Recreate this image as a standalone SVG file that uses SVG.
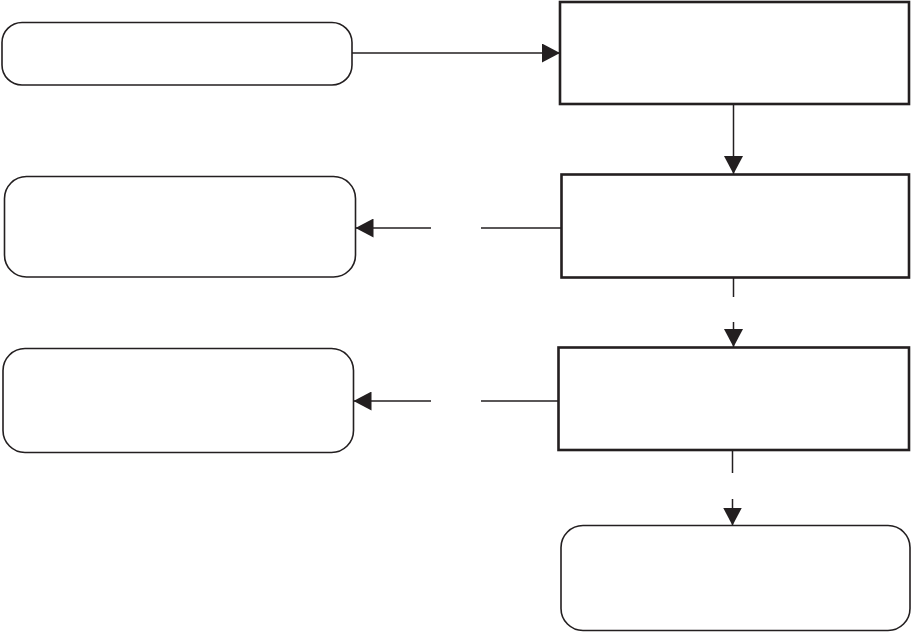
<svg xmlns="http://www.w3.org/2000/svg" width="912" height="632" viewBox="0 0 912 632">
<style>
.round{fill:#fff;stroke:#231f20;stroke-width:1.6}
.box{fill:#fff;stroke:#231f20;stroke-width:2.6}
.conn{fill:none;stroke:#231f20;stroke-width:1.5}
</style>
<defs>
<marker id="ah" markerUnits="userSpaceOnUse" markerWidth="18" markerHeight="19" viewBox="0 0 18 19" refX="18" refY="9.5" orient="auto">
<path d="M0,0 L18,9.5 L0,19 z" fill="#231f20"/>
</marker>
</defs>
<rect width="912" height="632" fill="#fff"/>
<g id="connectors">
<line class="conn" x1="352" y1="53" x2="560" y2="53" marker-end="url(#ah)"/>
<line class="conn" x1="733.5" y1="104" x2="733.5" y2="174" marker-end="url(#ah)"/>
<line class="conn" x1="561" y1="228" x2="481" y2="228"/>
<line class="conn" x1="431" y1="228" x2="355.5" y2="228" marker-end="url(#ah)"/>
<line class="conn" x1="733.5" y1="278" x2="733.5" y2="297"/>
<line class="conn" x1="733.5" y1="322" x2="733.5" y2="347" marker-end="url(#ah)"/>
<line class="conn" x1="558" y1="401" x2="481" y2="401"/>
<line class="conn" x1="431" y1="401" x2="353.5" y2="401" marker-end="url(#ah)"/>
<line class="conn" x1="732.5" y1="450" x2="732.5" y2="473"/>
<line class="conn" x1="732.5" y1="499" x2="732.5" y2="525.5" marker-end="url(#ah)"/>
</g>
<g id="nodeA"><rect class="round" x="2" y="22.5" width="350" height="62.5" rx="20" ry="20"/></g>
<g id="nodeB"><rect class="box" x="560" y="2" width="349" height="102"/></g>
<g id="nodeC"><rect class="box" x="561.5" y="174.5" width="347.5" height="103"/></g>
<g id="nodeD"><rect class="round" x="4.5" y="176.5" width="351" height="100.5" rx="22" ry="22"/></g>
<g id="nodeE"><rect class="box" x="558.5" y="347.5" width="350.5" height="102.5"/></g>
<g id="nodeF"><rect class="round" x="3" y="348.5" width="350.5" height="104" rx="22" ry="22"/></g>
<g id="nodeG"><rect class="round" x="561" y="525.5" width="349" height="105" rx="22" ry="22"/></g>
</svg>
